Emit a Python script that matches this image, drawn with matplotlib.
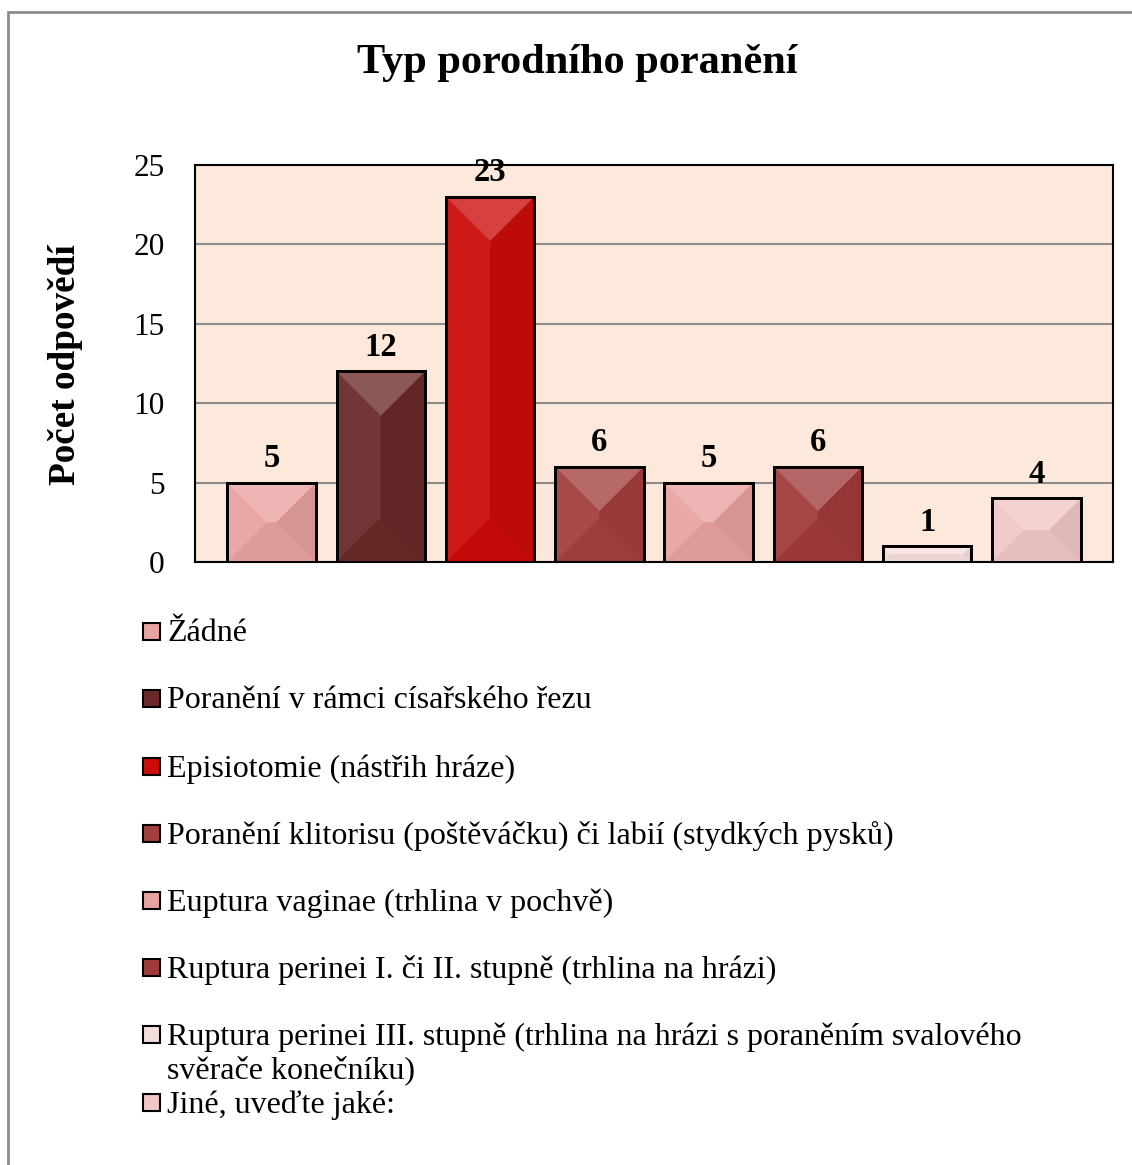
import numpy as np
import matplotlib
matplotlib.use('Agg')
import matplotlib.pyplot as plt
from matplotlib.patches import Rectangle, Polygon

plt.rcParams['font.family'] = ['Liberation Serif', 'DejaVu Serif']

# data
categories = ['Žádné',
              'Poranění v rámci císařského řezu',
              'Episiotomie (nástřih hráze)',
              'Poranění klitorisu (poštěváčku) či labií (stydkých pysků)',
              'Euptura vaginae (trhlina v pochvě)',
              'Ruptura perinei I. či II. stupně (trhlina na hrázi)',
              'Ruptura perinei III. stupně (trhlina na hrázi s poraněním svalového\nsvěrače konečníku)',
              'Jiné, uveďte jaké:']
values = [5, 12, 23, 6, 5, 6, 1, 4]
colors = ['#E8A2A0', '#6B2929', '#CC0B0B', '#A33F3E',
          '#E8A2A0', '#A13B3B', '#F4DEDD', '#F0C6C6']
yticks = [0, 5, 10, 15, 20, 25]

fig = plt.figure(figsize=(11.32, 11.65), dpi=100)

# outer chart frame
fig.add_artist(Rectangle((0.007, -0.01), 1.0, 0.9997, transform=fig.transFigure,
                         fill=False, edgecolor='#8c8c8c', lw=2))

ax = fig.add_axes([0.1723, 0.5176, 0.8109, 0.3408])
ax.set_facecolor('#FDE9DB')
x = np.arange(len(values))
bars = ax.bar(x, values, width=0.81, color=colors, edgecolor='black', linewidth=2, zorder=3)
ax.set_xlim(-0.70, len(values) - 0.30)
ax.set_ylim(0, 25)
ax.set_yticks(yticks)
ax.set_xticks([])
ax.tick_params(axis='y', length=0, pad=22, labelsize=22.5)
ax.yaxis.grid(True, color='#8c8c8c', lw=1.5, zorder=0)
for s in ax.spines.values():
    s.set_color('black')
    s.set_linewidth(1.5)

# bevel shading on each bar (computed from bar geometry)
fig.canvas.draw()
inv = ax.transData.inverted()
for b in bars:
    (px0, py0), (px1, py1) = ax.transData.transform([(b.get_x(), 0), (b.get_x() + b.get_width(), b.get_height())])
    d = min(px1 - px0, py1 - py0) / 2.0
    faces = {
        'top': ([(px0, py1), (px1, py1), (px1 - d, py1 - d), (px0 + d, py1 - d)], 'white', 0.22),
        'left': ([(px0, py0), (px0, py1), (px0 + d, py1 - d), (px0 + d, py0 + d)], 'white', 0.06),
        'right': ([(px1, py0), (px1, py1), (px1 - d, py1 - d), (px1 - d, py0 + d)], 'black', 0.07),
        'bottom': ([(px0, py0), (px1, py0), (px1 - d, py0 + d), (px0 + d, py0 + d)], 'black', 0.04),
    }
    for pts, c, a in faces.values():
        ax.add_patch(Polygon(inv.transform(pts), closed=True, facecolor=c, alpha=a,
                             edgecolor='none', zorder=3.5))
    ax.add_patch(Rectangle((b.get_x(), 0), b.get_width(), b.get_height(), fill=False,
                           edgecolor='black', lw=2, zorder=4))

for xi, v in zip(x, values):
    ax.annotate(str(v), (xi, v), xytext=(0, 6), textcoords='offset points',
                ha='center', va='bottom', fontsize=23.5, fontweight='bold', zorder=5)

fig.text(0.51, 0.9455, 'Typ porodního poranění', ha='center', va='center',
         fontsize=30.5, fontweight='bold')
fig.text(0.058, 0.687, 'Počet odpovědí', ha='center', va='center', rotation=90,
         fontsize=26.8, fontweight='bold')

# legend
leg_y = [631, 698, 766, 833, 900, 967, 1034, 1102]
for name, c, yy in zip(categories, colors, leg_y):
    yf = 1 - yy / 1165
    fig.add_artist(Rectangle((143 / 1132, yf - 9 / 1165), 17 / 1132, 17 / 1165,
                             transform=fig.transFigure, facecolor=c, edgecolor='black', lw=1.5))
    fig.text(167 / 1132, yf + 12 / 1165, name, ha='left', va='top', fontsize=23, linespacing=1.18)

fig.savefig('out.png', dpi=100)
